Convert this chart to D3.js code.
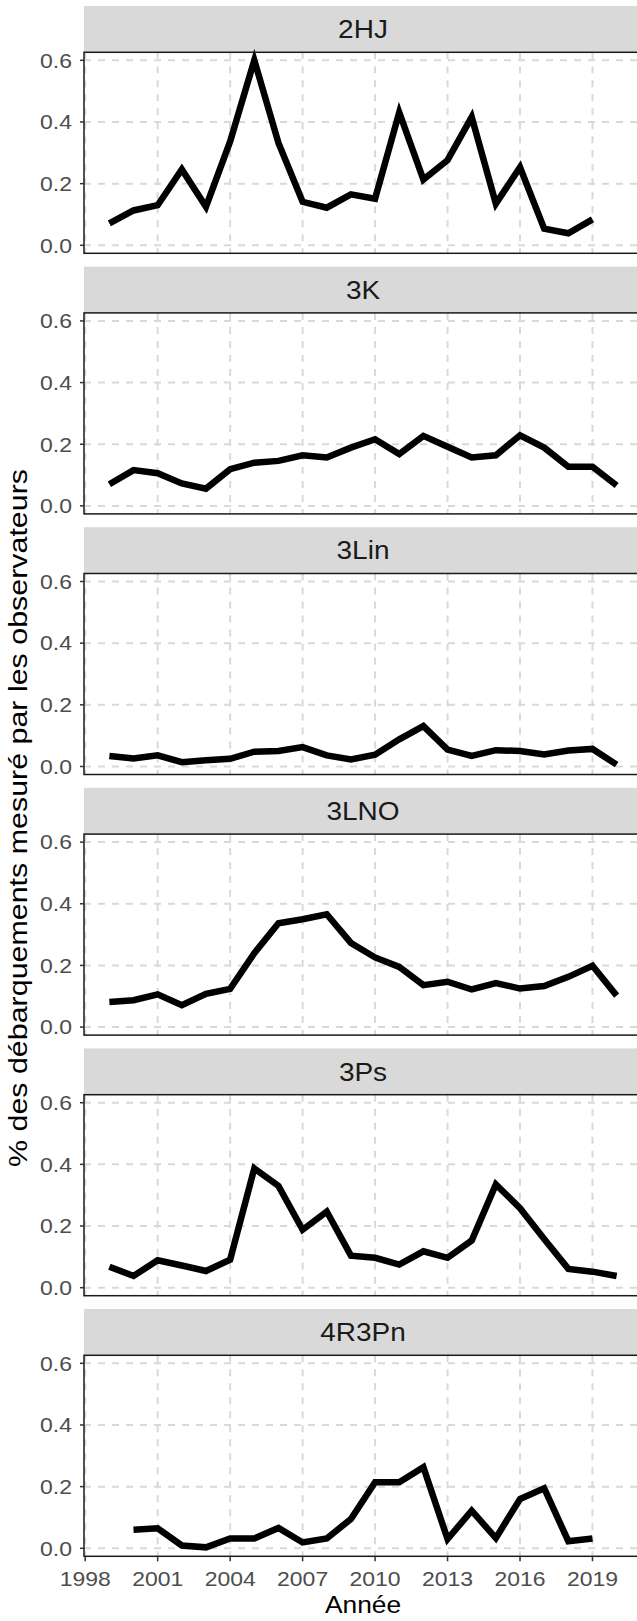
<!DOCTYPE html>
<html>
<head>
<meta charset="utf-8">
<script src="https://cdn.jsdelivr.net/npm/d3@7"></script>
<style>
  html, body { margin: 0; padding: 0; background: #fff; }
  svg { display: block; font-family: "Liberation Sans", Arial, sans-serif; }
</style>
</head>
<body>
<div id="chart"></div>
<script>
// Share of landings measured by at-sea observers, by NAFO division group
const regions = ["2HJ", "3K", "3Lin", "3LNO", "3Ps", "4R3Pn"];

const years2HJ   = [1999,2000,2001,2002,2003,2004,2005,2006,2007,2008,2009,2010,2011,2012,2013,2014,2015,2016,2017,2018,2019];
const values2HJ  = [0.071,0.113,0.130,0.246,0.125,0.337,0.600,0.332,0.141,0.122,0.165,0.151,0.431,0.213,0.276,0.416,0.135,0.253,0.054,0.039,0.084];

const years3K    = [1999,2000,2001,2002,2003,2004,2005,2006,2007,2008,2009,2010,2011,2012,2013,2014,2015,2016,2017,2018,2019,2020];
const values3K   = [0.070,0.116,0.106,0.073,0.056,0.119,0.140,0.146,0.164,0.157,0.189,0.216,0.168,0.227,0.192,0.157,0.164,0.229,0.189,0.127,0.127,0.066];

const years3Lin  = [1999,2000,2001,2002,2003,2004,2005,2006,2007,2008,2009,2010,2011,2012,2013,2014,2015,2016,2017,2018,2019,2020];
const values3Lin = [0.034,0.026,0.036,0.014,0.020,0.025,0.048,0.050,0.063,0.036,0.023,0.038,0.088,0.131,0.055,0.034,0.053,0.050,0.039,0.052,0.057,0.006];

const years3LNO  = [1999,2000,2001,2002,2003,2004,2005,2006,2007,2008,2009,2010,2011,2012,2013,2014,2015,2016,2017,2018,2019,2020];
const values3LNO = [0.081,0.087,0.106,0.071,0.108,0.124,0.240,0.337,0.350,0.366,0.273,0.226,0.195,0.136,0.147,0.122,0.143,0.125,0.133,0.163,0.199,0.102];

const years3Ps   = [1999,2000,2001,2002,2003,2004,2005,2006,2007,2008,2009,2010,2011,2012,2013,2014,2015,2016,2017,2018,2019,2020];
const values3Ps  = [0.068,0.038,0.089,0.072,0.054,0.091,0.387,0.330,0.188,0.247,0.104,0.097,0.075,0.118,0.097,0.153,0.335,0.258,0.158,0.061,0.052,0.038];

const years4R3Pn  = [2000,2001,2002,2003,2004,2005,2006,2007,2008,2009,2010,2011,2012,2013,2014,2015,2016,2017,2018,2019];
const values4R3Pn = [0.060,0.065,0.009,0.003,0.032,0.032,0.066,0.019,0.032,0.095,0.214,0.214,0.263,0.030,0.122,0.033,0.160,0.195,0.023,0.032];

const xTicks = [1998, 2001, 2004, 2007, 2010, 2013, 2016, 2019];
const yTicks = [0.0, 0.2, 0.4, 0.6];

const xLabel = "Année";
const yLabel = "% des débarquements mesuré par les observateurs";

const seriesByRegion = {
  "2HJ":   { years: years2HJ,   values: values2HJ },
  "3K":    { years: years3K,    values: values3K },
  "3Lin":  { years: years3Lin,  values: values3Lin },
  "3LNO":  { years: years3LNO,  values: values3LNO },
  "3Ps":   { years: years3Ps,   values: values3Ps },
  "4R3Pn": { years: years4R3Pn, values: values4R3Pn }
};

// ---- layout ----
const W = 637, H = 1621;
const panelLeft = 84, panelRight = 642;
const firstTop = 6, stripH = 46.3, panelH = 201, facetStep = 260.6;
const stretch = 1.12; // horizontal text aspect

const svg = d3.select("#chart").append("svg")
  .attr("width", W).attr("height", H)
  .attr("viewBox", `0 0 ${W} ${H}`);

const x = d3.scaleLinear().domain([1997.95, 2021.05]).range([panelLeft, panelRight]);

regions.forEach((region, i) => {
  const stripTop = firstTop + i * facetStep;
  const pTop = stripTop + stripH;
  const pBottom = pTop + panelH;
  const y = d3.scaleLinear().domain([-0.026, 0.626]).range([pBottom, pTop]);
  const g = svg.append("g");

  // strip
  g.append("rect")
    .attr("x", panelLeft).attr("y", stripTop)
    .attr("width", panelRight - panelLeft).attr("height", stripH)
    .attr("fill", "#d9d9d9");
  g.append("text")
    .attr("transform", `translate(${(panelLeft + panelRight) / 2},${stripTop + stripH / 2 + 9}) scale(${stretch},1)`)
    .attr("text-anchor", "middle")
    .attr("font-size", 25)
    .attr("fill", "#1a1a1a")
    .text(region);

  // grid
  const grid = g.append("g")
    .attr("stroke", "#d9d9d9")
    .attr("stroke-width", 2)
    .attr("stroke-dasharray", "7,7");
  grid.selectAll("line.h").data(yTicks).join("line")
    .attr("class", "h")
    .attr("x1", panelLeft).attr("x2", panelRight)
    .attr("y1", d => y(d)).attr("y2", d => y(d));
  grid.selectAll("line.v").data(xTicks).join("line")
    .attr("class", "v")
    .attr("x1", d => x(d)).attr("x2", d => x(d))
    .attr("y1", pTop).attr("y2", pBottom);

  // data line
  const s = seriesByRegion[region];
  const pts = s.years.map((yr, k) => [yr, s.values[k]]);
  g.append("path")
    .datum(pts)
    .attr("fill", "none")
    .attr("stroke", "#000")
    .attr("stroke-width", 6.5)
    .attr("stroke-linejoin", "miter")
    .attr("stroke-linecap", "butt")
    .attr("d", d3.line().x(d => x(d[0])).y(d => y(d[1])));

  // panel border
  g.append("rect")
    .attr("x", panelLeft).attr("y", pTop)
    .attr("width", panelRight - panelLeft).attr("height", panelH)
    .attr("fill", "none")
    .attr("stroke", "#1a1a1a")
    .attr("stroke-width", 1.5);

  // y axis ticks and labels
  const yAxis = g.append("g");
  yAxis.selectAll("line").data(yTicks).join("line")
    .attr("x1", panelLeft - 4).attr("x2", panelLeft)
    .attr("y1", d => y(d)).attr("y2", d => y(d))
    .attr("stroke", "#333").attr("stroke-width", 1.5);
  yAxis.selectAll("text").data(yTicks).join("text")
    .attr("transform", d => `translate(72,${y(d) + 7.3}) scale(${stretch},1)`)
    .attr("text-anchor", "end")
    .attr("font-size", 20.5)
    .attr("fill", "#4d4d4d")
    .text(d3.format(".1f"));

  // x axis on the bottom facet only
  if (i === regions.length - 1) {
    const xAxis = g.append("g");
    xAxis.selectAll("line").data(xTicks).join("line")
      .attr("x1", d => x(d)).attr("x2", d => x(d))
      .attr("y1", pBottom).attr("y2", pBottom + 5)
      .attr("stroke", "#333").attr("stroke-width", 1.5);
    xAxis.selectAll("text").data(xTicks).join("text")
      .attr("transform", d => `translate(${x(d)},${pBottom + 29.5}) scale(${stretch},1)`)
      .attr("text-anchor", "middle")
      .attr("font-size", 20.5)
      .attr("fill", "#4d4d4d")
      .text(d => d);

    svg.append("text")
      .attr("transform", `translate(${(panelLeft + panelRight) / 2},${pBottom + 57}) scale(${stretch},1)`)
      .attr("text-anchor", "middle")
      .attr("font-size", 23.5)
      .attr("fill", "#000")
      .text(xLabel);
  }
});

// y axis title
svg.append("text")
  .attr("transform", "translate(27,818) rotate(-90) scale(1.17,1)")
  .attr("text-anchor", "middle")
  .attr("font-size", 26)
  .attr("fill", "#000")
  .text(yLabel);
</script>
</body>
</html>
